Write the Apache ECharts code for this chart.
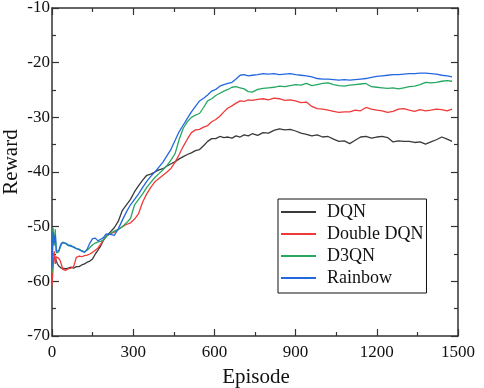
<!DOCTYPE html>
<html>
<head>
<meta charset="utf-8">
<script src="https://cdn.jsdelivr.net/npm/echarts@6/dist/echarts.min.js"></script>
<style>
	html, body {margin: 0; padding: 0; background: #fff;}
	#chart {width: 484px; height: 388px;}
</style>
</head>
<body>
<div id="chart"></div>
<script>
// episode positions shared by all curves
var episodes = [
	0, 4, 8, 12, 16, 20, 25, 30, 35, 40,
	50, 60, 70, 80, 90, 100, 110, 120, 130, 140, 150, 160, 170, 180, 190, 200,
	215, 230, 245, 260, 275, 290, 305, 320, 335, 350, 365, 380, 395, 410, 425, 440, 455,
	470, 485, 500, 515, 530, 545, 560, 575, 590,
	605, 620, 635, 650, 665, 680, 695, 710, 725, 740,
	760, 780, 800, 820, 840, 860, 880, 900, 920, 940, 960, 980, 1000, 1020, 1040, 1060, 1080, 1100,
	1120, 1140, 1160, 1180, 1200, 1220, 1240, 1260, 1280, 1300, 1320, 1340, 1360, 1380, 1400, 1420,
	1440, 1460, 1478
];

var dqn = [
	-55.2, -55.5, -55.0, -55.8, -56.3, -56.8, -57.2, -57.4, -57.6, -57.5,
	-57.7, -57.6, -57.4, -57.6, -57.3, -57.3, -57.0, -56.8, -56.5, -56.3, -55.9, -55.0, -54.3, -53.5, -52.5, -51.8,
	-51.0, -50.2, -49.0, -47.0, -46.0, -45.0, -43.6, -42.5, -41.5, -40.6, -40.4, -40.0, -39.6, -39.4, -38.9, -38.5, -38.1,
	-37.6, -37.2, -36.8, -36.5, -36.1, -35.9, -35.2, -34.4, -33.9,
	-33.9, -33.5, -33.7, -33.6, -33.8, -33.4, -33.6, -33.2, -33.4, -33.0,
	-33.3, -32.8, -32.9, -32.4, -32.1, -32.3, -32.2, -32.5, -32.9, -33.1, -33.4, -33.2, -33.6, -33.5, -34.0, -34.4, -34.3, -34.8,
	-34.2, -33.6, -33.5, -33.8, -33.6, -33.5, -33.7, -34.5, -34.3, -34.4, -34.4, -34.6, -34.5, -34.9, -34.5, -34.1,
	-33.6, -34.0, -34.4
];

var doubleDqn = [
	-60.8, -57.5, -54.5, -56.8, -55.5, -55.2, -55.8, -56.2, -56.5, -57.8,
	-58.0, -57.7, -57.6, -57.3, -55.6, -55.4, -55.5, -55.3, -55.2, -55.0, -54.7, -54.3, -53.9, -53.2, -52.4, -51.7,
	-51.3, -51.0, -50.5, -50.0, -49.6, -49.3, -48.6, -47.6, -45.5, -44.0, -42.8, -41.8, -41.2, -40.6, -40.0, -39.3, -38.2,
	-36.8, -35.3, -34.0, -32.8, -32.3, -32.2, -31.8, -31.5, -30.8,
	-30.4, -29.8, -29.0, -28.3, -27.9, -27.4, -27.0, -27.1, -26.8, -26.9,
	-26.7, -26.6, -26.8, -26.5, -26.6, -26.9, -26.8, -27.0, -27.3, -27.2, -28.0, -28.4, -28.5, -28.7, -28.9, -29.1, -29.0, -29.0,
	-28.7, -28.8, -28.2, -28.5, -28.7, -28.8, -29.1, -28.9, -28.5, -28.4, -28.7, -28.9, -28.6, -28.8, -28.7, -28.5,
	-28.6, -28.8, -28.5
];

var d3qn = [
	-58.5, -50.2, -53.5, -50.5, -54.8, -55.0, -54.6, -53.8, -53.2, -52.8,
	-53.1, -53.5, -53.4, -53.8, -54.0, -54.1, -54.4, -54.6, -54.3, -53.8, -53.3, -53.0, -52.8, -52.7, -52.4, -51.8,
	-51.3, -50.8, -50.5, -50.0, -49.3, -48.5, -46.0, -45.0, -44.0, -42.8, -41.9, -41.0, -40.3, -39.6, -38.8, -37.8, -36.6,
	-34.0, -32.0, -30.8, -30.0, -29.6, -29.3, -28.2, -27.0, -26.6,
	-26.0, -25.6, -25.2, -24.9, -24.5, -24.4, -24.6, -24.8, -25.3, -25.4,
	-24.9, -24.7, -24.6, -24.5, -24.3, -24.4, -24.2, -24.0, -24.1, -23.8, -24.2, -24.0, -23.8, -23.7, -24.0, -24.2, -24.3, -24.1,
	-24.0, -23.9, -23.8, -24.4, -24.5, -24.6, -24.7, -24.6, -24.8, -24.6, -24.4, -24.3, -24.0, -23.6, -23.7, -23.6,
	-23.4, -23.3, -23.4
];

var rainbow = [
	-57.5, -51.0, -53.0, -51.5, -54.5, -54.8, -54.4, -53.6, -53.0, -52.7,
	-53.0, -53.3, -53.6, -53.7, -54.0, -54.2, -54.5, -54.7, -54.1, -53.0, -52.2, -52.1, -52.6, -52.3, -52.0, -51.3,
	-51.4, -51.6, -50.4, -48.8, -47.3, -46.0, -45.0, -44.0, -42.8, -41.7, -40.8, -40.0, -39.1, -38.2, -37.0, -35.8, -34.2,
	-32.6, -31.4, -30.2, -29.0, -28.0, -27.0, -26.5, -25.9, -25.2,
	-24.9, -24.3, -24.0, -23.8, -23.6, -23.0, -22.3, -22.2, -22.4, -22.3,
	-22.2, -22.0, -22.1, -22.0, -22.2, -22.1, -22.0, -22.2, -22.3, -22.4, -22.6, -22.9, -23.0, -23.0, -23.1, -23.2, -23.1, -23.2,
	-23.1, -23.0, -22.9, -22.7, -22.5, -22.4, -22.3, -22.2, -22.2, -22.1, -22.0, -22.0, -21.9, -21.9, -22.0, -22.1,
	-22.3, -22.4, -22.6
];

var seriesNames = ['DQN', 'Double DQN', 'D3QN', 'Rainbow'];
var seriesData = [dqn, doubleDqn, d3qn, rainbow];
var colors = ['#3a3a3a', '#f03a3a', '#26a862', '#2468e0'];

var xTicks = {min: 0, max: 1500, interval: 300};
var yTicks = {min: -70, max: -10, interval: 10};

var font = 'Liberation Serif';
var axisColor = '#333';

function frameAxis(base, extra){
	var a = {
		type: 'value',
		min: base.min,
		max: base.max,
		interval: base.interval,
		axisLine: {show: true, onZero: false, lineStyle: {color: axisColor, width: 1.5}},
		axisTick: {show: true, inside: true, length: 7, lineStyle: {color: axisColor, width: 1.2}},
		minorTick: {show: true, splitNumber: 2, length: 4, lineStyle: {color: axisColor, width: 1.2}},
		splitLine: {show: false},
		minorSplitLine: {show: false},
		axisLabel: {show: false}
	};
	return Object.assign(a, extra);
}

function tickLabel(margin){
	return {
		show: true,
		margin: margin,
		fontFamily: font,
		fontSize: 17,
		color: '#111',
		formatter: function(v){ return String(v); }
	};
}

// axis titles as plain text elements (keeps the grid from being pushed in)
function title(text, x, y, rotation){
	return {
		type: 'text',
		x: x,
		y: y,
		rotation: rotation,
		style: {text: text, fontFamily: font, fontSize: 21, fill: '#111', align: 'center', verticalAlign: 'middle'}
	};
}

var chart = echarts.init(document.getElementById('chart'));

function draw(){
	chart.setOption({
		animation: false,
		color: colors,
		textStyle: {fontFamily: font},
		grid: {left: 52, right: 26, top: 8, bottom: 52, outerBoundsMode: 'none'},
		xAxis: [
			frameAxis(xTicks, {position: 'bottom', axisLabel: tickLabel(8)}),
			frameAxis(xTicks, {position: 'top'})
		],
		yAxis: [
			frameAxis(yTicks, {position: 'left', axisLabel: tickLabel(2)}),
			frameAxis(yTicks, {position: 'right'})
		],
		graphic: [
			title('Episode', 256, 377, 0),
			title('Reward', 11, 162, Math.PI / 2)
		],
		legend: {
			orient: 'vertical',
			left: 278,
			top: 199,
			data: seriesNames,
			icon: 'rect',
			borderColor: '#111',
			borderWidth: 1,
			borderRadius: 0,
			padding: [4, 3, 6, 3],
			itemWidth: 35,
			itemHeight: 2,
			itemGap: 4,
			textStyle: {fontFamily: font, fontSize: 18, color: '#111', lineHeight: 17, padding: [0, 0, 0, 6]}
		},
		series: seriesData.map(function(vals, i){
			return {
				name: seriesNames[i],
				type: 'line',
				symbol: 'none',
				xAxisIndex: 0,
				yAxisIndex: 0,
				lineStyle: {width: 1.3},
				data: episodes.map(function(ep, j){ return [ep, vals[j]]; })
			};
		})
	});
}

draw();
if(document.fonts && document.fonts.load){
	document.fonts.load('17px "Liberation Serif"').then(draw);
}
</script>
</body>
</html>
